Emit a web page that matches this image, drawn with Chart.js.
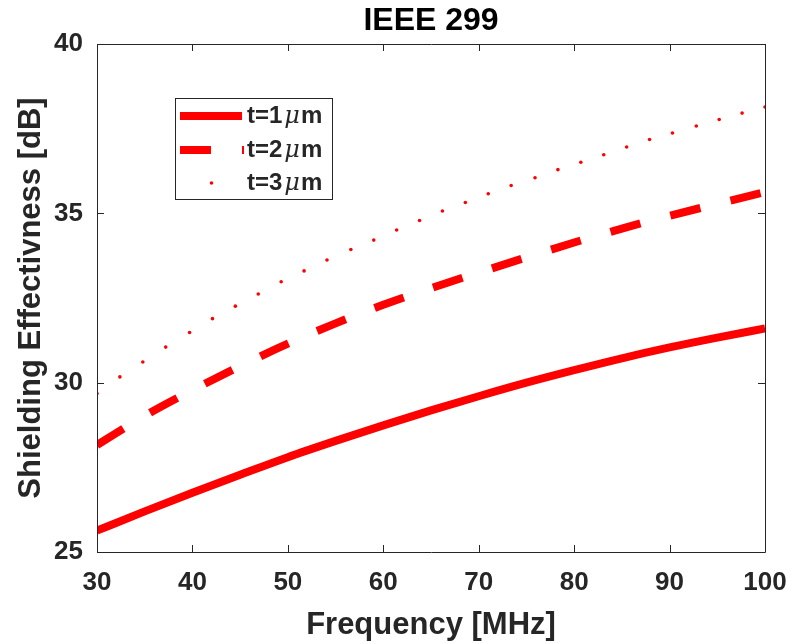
<!DOCTYPE html>
<html>
<head>
<meta charset="utf-8">
<script src="https://cdn.jsdelivr.net/npm/chart.js@4.4.1/dist/chart.umd.min.js"></script>
<style>
  html, body { margin: 0; padding: 0; background: #fff; }
  #wrap { width: 792px; height: 644px; }
</style>
</head>
<body>
<div id="wrap"><canvas id="se"></canvas></div>
<script>
// Frequency grid (MHz) for the 1 µm and 2 µm curves
const freqMHz = [30, 35, 40, 45, 50, 55, 60, 65, 70, 75, 80, 85, 90, 95, 100];
// Shielding effectiveness (dB) for t = 1 µm and t = 2 µm
const se1um = [25.63, 26.20, 26.75, 27.28, 27.80, 28.28, 28.74, 29.18, 29.60, 30.00, 30.37, 30.72, 31.04, 31.33, 31.60];
const se2um = [28.16, 29.02, 29.78, 30.49, 31.15, 31.75, 32.30, 32.79, 33.25, 33.70, 34.14, 34.55, 34.93, 35.28, 35.63];
// Sample frequencies (MHz) and values (dB) of the dotted t = 3 µm curve
const freqDots = [30, 32.4, 34.8, 37.2, 39.7, 42.1, 44.5, 46.9, 49.3, 51.7, 54.1, 56.6, 59.0, 61.4, 63.8,
                  66.2, 68.6, 71.0, 73.4, 75.9, 78.3, 80.7, 83.1, 85.5, 87.9, 90.3, 92.8, 95.2, 97.6, 100];
const se3um = [29.68, 30.17, 30.61, 31.05, 31.48, 31.89, 32.26, 32.62, 32.98, 33.30, 33.62, 33.93, 34.21, 34.51, 34.79,
               35.07, 35.32, 35.58, 35.82, 36.05, 36.29, 36.51, 36.73, 36.96, 37.18, 37.37, 37.58, 37.77, 37.96, 38.14];
// Axis ticks
const xTicks = [30, 40, 50, 60, 70, 80, 90, 100];
const yTicks = [25, 30, 35, 40];
// Legend entries: thickness label, with the unit written as "µm"
const legendLabels = ['1', '2', '3'];
const chartTitle = 'IEEE 299';

const AXIS = '#262626';
const RED = '#ff0000';
const FONT = '"Liberation Sans", Arial, Helvetica, sans-serif';

function pairs(xs, ys) { return xs.map((x, i) => ({ x: x, y: ys[i] })); }

// Title centred over the plotting area, box around the axes with inward ticks on all four sides
const boxPlugin = {
  id: 'matlabBox',
  afterDraw(chart) {
    const { ctx, chartArea: a, scales } = chart;
    const tl = 7;
    ctx.save();
    ctx.fillStyle = '#000';
    ctx.font = 'bold 32px ' + FONT;
    ctx.textAlign = 'center';
    ctx.textBaseline = 'alphabetic';
    ctx.fillText(chartTitle, (a.left + a.right) / 2, 30);

    ctx.strokeStyle = AXIS;
    ctx.lineWidth = 1;
    ctx.beginPath();
    ctx.rect(a.left + 0.5, a.top + 0.5, a.right - a.left, a.bottom - a.top);
    xTicks.forEach(v => {
      const px = Math.round(scales.x.getPixelForValue(v)) + 0.5;
      ctx.moveTo(px, a.bottom); ctx.lineTo(px, a.bottom - tl);
      ctx.moveTo(px, a.top); ctx.lineTo(px, a.top + tl);
    });
    yTicks.forEach(v => {
      const py = Math.round(scales.y.getPixelForValue(v)) + 0.5;
      ctx.moveTo(a.left, py); ctx.lineTo(a.left + tl, py);
      ctx.moveTo(a.right, py); ctx.lineTo(a.right - tl, py);
    });
    ctx.stroke();
    ctx.restore();
  }
};

// Legend box with line samples and "t=Nµm" labels (µ in italic)
const legendPlugin = {
  id: 'seLegend',
  afterDraw(chart) {
    const { ctx } = chart;
    const bx = 175.5, by = 98.5, bw = 157, bh = 101;
    const rowY = [116, 150, 183];
    ctx.save();
    ctx.fillStyle = '#fff';
    ctx.fillRect(bx, by, bw, bh);
    ctx.strokeStyle = AXIS;
    ctx.lineWidth = 1;
    ctx.strokeRect(bx, by, bw, bh);
    chart.data.datasets.forEach((ds, i) => {
      const y = rowY[i];
      ctx.strokeStyle = RED;
      ctx.fillStyle = RED;
      if (i === 2) {
        ctx.beginPath();
        ctx.arc(211.5, y, 1.8, 0, Math.PI * 2);
        ctx.fill();
      } else {
        ctx.lineWidth = ds.borderWidth;
        ctx.lineCap = 'butt';
        ctx.setLineDash(ds.borderDash || []);
        ctx.beginPath();
        ctx.moveTo(180, y);
        ctx.lineTo(i === 1 ? 244 : 242, y);
        ctx.stroke();
        ctx.setLineDash([]);
      }
      ctx.fillStyle = AXIS;
      ctx.textBaseline = 'middle';
      ctx.textAlign = 'left';
      let x = 247;
      const lead = 't=' + legendLabels[i];
      ctx.font = 'bold 24px ' + FONT;
      ctx.fillText(lead, x, y);
      x += ctx.measureText(lead).width + 2;
      ctx.font = 'italic 24px "DejaVu Serif", "Liberation Serif", serif';
      ctx.fillText('\u03bc', x, y + 1);
      x += ctx.measureText('\u03bc').width + 1;
      ctx.font = 'bold 24px ' + FONT;
      ctx.fillText('m', x, y);
    });
    ctx.restore();
  }
};

new Chart(document.getElementById('se'), {
  type: 'line',
  data: {
    datasets: [
      { label: 't=1\u03bcm', data: pairs(freqMHz, se1um), borderColor: RED, backgroundColor: RED,
        borderWidth: 8, pointRadius: 0, cubicInterpolationMode: 'monotone', fill: false },
      { label: 't=2\u03bcm', data: pairs(freqMHz, se2um), borderColor: RED, backgroundColor: RED,
        borderWidth: 8, borderDash: [31, 31], borderCapStyle: 'butt', pointRadius: 0,
        cubicInterpolationMode: 'monotone', fill: false },
      { label: 't=3\u03bcm', data: pairs(freqDots, se3um), borderColor: RED, backgroundColor: RED,
        showLine: false, pointRadius: 1.8, pointBorderWidth: 0, pointHoverRadius: 0, fill: false }
    ]
  },
  options: {
    responsive: true,
    maintainAspectRatio: false,
    animation: false,
    events: [],
    layout: { padding: { left: 0, right: 27, top: 44, bottom: 0 } },
    plugins: {
      legend: { display: false },
      tooltip: { enabled: false },
      title: { display: false }
    },
    scales: {
      x: {
        type: 'linear',
        min: 30, max: 100,
        afterBuildTicks(s) { s.ticks = xTicks.map(v => ({ value: v })); },
        afterFit(s) { s.height = 92; s.paddingLeft = 0; s.paddingRight = 0; },
        grid: { display: false, drawTicks: false },
        border: { display: false },
        ticks: { color: AXIS, padding: 15, maxRotation: 0, font: { family: FONT, size: 26, weight: 'bold' } },
        title: { display: true, text: 'Frequency [MHz]', color: AXIS, padding: { top: 6, bottom: 0 },
                 font: { family: FONT, size: 31, weight: 'bold' } }
      },
      y: {
        min: 25, max: 40,
        afterBuildTicks(s) { s.ticks = yTicks.map(v => ({ value: v })); },
        afterFit(s) { s.width = 97; s.paddingTop = 0; s.paddingBottom = 0; },
        grid: { display: false, drawTicks: false },
        border: { display: false },
        ticks: { color: AXIS, padding: 14, font: { family: FONT, size: 26, weight: 'bold' } },
        title: { display: true, text: 'Shielding Effectivness [dB]', color: AXIS, padding: { top: 13, bottom: 0 },
                 font: { family: FONT, size: 31, weight: 'bold' } }
      }
    }
  },
  plugins: [boxPlugin, legendPlugin]
});
</script>
</body>
</html>
